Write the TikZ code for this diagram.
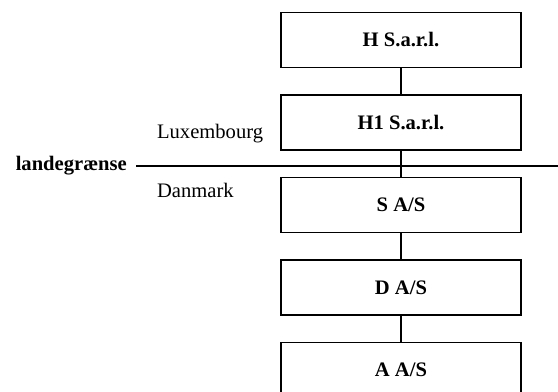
\documentclass[tikz,border=0pt]{standalone}
\usepackage{fontspec}
\setmainfont{Liberation Serif}
\usepackage{tikz}
\usetikzlibrary{shapes,arrows,positioning}
\tikzstyle{company} = [rectangle, draw, line width=1pt, minimum width=6.35cm, minimum height=1.455cm, text centered, font=\fontsize{15.5}{18}\selectfont\bfseries, node distance=2.183cm]
\tikzstyle{line} = [draw, line width=1pt]
\tikzstyle{country} = [font=\fontsize{15.5}{18}\selectfont, anchor=west, inner sep=0pt]

\begin{document}
\begin{tikzpicture}[node distance=2.183cm, auto]
    \useasboundingbox (0,0) rectangle (14.765,10.372);
    \node [company] (hsarl) at (10.61,9.314) {H S.a.r.l.};
    \node [company, below of=hsarl] (h1sarl) {H1 S.a.r.l.};
    \node [company, below of=h1sarl] (sas) {S A/S};
    \node [company, below of=sas] (das) {D A/S};
    \node [company, below of=das] (aas) {A A/S};

    \path [line] (hsarl) -- (h1sarl);
    \path [line] (h1sarl) -- (sas);
    \path [line] (sas) -- (das);
    \path [line] (das) -- (aas);

    % landegraense
    \node [font=\fontsize{15.5}{18}\selectfont\bfseries, anchor=east, inner sep=0pt] (graense) at (3.36,6.0) {landegrænse};
    \coordinate (graenseend) at (14.765,5.98);
    \draw [line width=0.8pt] ([xshift=0.24cm]graense.east |- graenseend) -- (graenseend);
    \node [country] (lux) at (4.15,6.85) {Luxembourg};
    \node [country] (dk) at (4.15,5.345) {Danmark};
\end{tikzpicture}
\end{document}
